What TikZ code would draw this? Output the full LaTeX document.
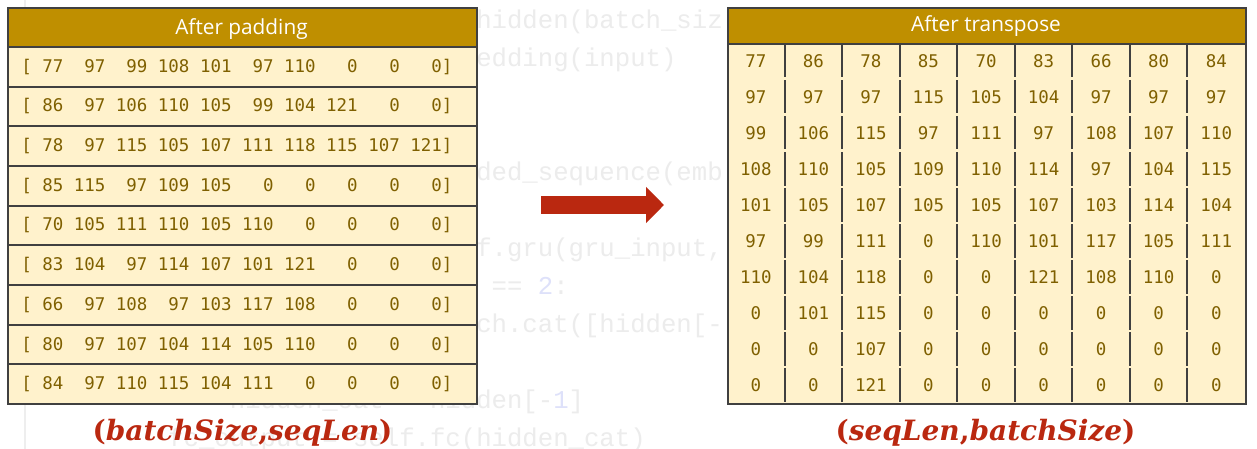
\documentclass[tikz,border=0pt]{standalone}
\usepackage{fontspec}
\setmainfont{Open Sans}
\newfontfamily\uifont{Open Sans}
\newfontfamily\numfont{DejaVu Sans Mono}
\newfontfamily\codefont{Liberation Mono}
\newfontfamily\labfont{DejaVu Serif}
\usetikzlibrary{arrows.meta}
\definecolor{hdr}{RGB}{191,143,0}
\definecolor{rowfill}{RGB}{255,242,204}
\definecolor{numcol}{RGB}{127,96,0}
\definecolor{bordercol}{RGB}{64,64,64}
\definecolor{redcol}{RGB}{186,40,16}
\definecolor{codegray}{RGB}{236,236,236}
\definecolor{codeblue}{RGB}{222,225,250}
\definecolor{guttercol}{RGB}{238,238,238}
\newcommand{\pxu}{0.75pt}
\tikzset{
  headbox/.style={draw=bordercol, line width=2*\pxu, fill=hdr, text=white,
    inner sep=0pt, anchor=north west},
  headtext/.style={text=white, inner sep=0pt, anchor=base,
    font=\uifont\fontsize{15.6}{18}\selectfont},
  rowbox/.style={draw=bordercol, line width=2*\pxu, fill=rowfill, inner sep=0pt,
    anchor=north west, minimum width=469*\pxu, minimum height=39.67*\pxu},
  rowtext/.style={text=numcol, inner sep=0pt, anchor=west,
    font=\numfont\fontsize{13.1}{15}\selectfont},
  celltext/.style={text=numcol, inner sep=0pt,
    font=\numfont\fontsize{13.1}{15}\selectfont},
  bodybox/.style={draw=bordercol, line width=2*\pxu, fill=rowfill, inner sep=0pt,
    anchor=north west},
  colline/.style={draw=bordercol, line width=2*\pxu},
  codetext/.style={text=codegray, inner sep=0pt, anchor=base west,
    font=\codefont\fontsize{19.25}{22}\selectfont},
  dimlabel/.style={text=redcol, inner sep=0pt,
    font=\labfont\bfseries\fontsize{21}{25}\selectfont},
  bigarrow/.style={draw=redcol, line width=18*\pxu,
    -{Triangle[width=35.4*\pxu,length=18*\pxu]}},
}
\begin{document}
\begin{tikzpicture}[x=0.75pt,y=-0.75pt]
\useasboundingbox (0,0) rectangle (1257,449);
\fill[white] (0,0) rectangle (1257,449);
% faint editor gutter
\coordinate (gutTop) at (25,0);
\coordinate (gutBot) at (25,449);
\draw[guttercol, line width=1.2*\pxu] (gutTop) -- (gutBot);

% faint background code (baselines 28.3 + 38k, columns 44.8 + 15.4c)
\node[codetext] (code1) at (476,28.3) {hidden(batch\_siz};
\node[codetext] (code2) at (476,66.3) {edding(input)};
\node[codetext] (code5) at (476,180.3) {ded\_sequence(emb};
\node[codetext] (code7) at (476,256.3) {f.gru(gru\_input,};
\node[codetext] (code8) at (491.4,294.3) {== \textcolor{codeblue}{2}:};
\node[codetext] (code9) at (476,332.3) {ch.cat([hidden[-};
\node[codetext] (code11) at (229.6,408.3) {hidden\_cat = hidden[-\textcolor{codeblue}{1}]};
\node[codetext] (code12) at (168,446.3) {fc\_output = self.fc(hidden\_cat)};

% left table
\node[headbox, minimum width=469*\pxu, minimum height=39*\pxu] (LH) at (7,7) {};
\node[headtext] (LHt) at (241.5,34.5) {After padding};
\foreach \k/\txt in {
  0/{[~77~~97~~99~108~101~~97~110~~~0~~~0~~~0]},
  1/{[~86~~97~106~110~105~~99~104~121~~~0~~~0]},
  2/{[~78~~97~115~105~107~111~118~115~107~121]},
  3/{[~85~115~~97~109~105~~~0~~~0~~~0~~~0~~~0]},
  4/{[~70~105~111~110~105~110~~~0~~~0~~~0~~~0]},
  5/{[~83~104~~97~114~107~101~121~~~0~~~0~~~0]},
  6/{[~66~~97~108~~97~103~117~108~~~0~~~0~~~0]},
  7/{[~80~~97~107~104~114~105~110~~~0~~~0~~~0]},
  8/{[~84~~97~110~115~104~111~~~0~~~0~~~0~~~0]}} {
  \node[rowbox] (L\k) at (7,{46+39.67*\k}) {};
  \node[rowtext] (Lt\k) at (21,{46+39.67*(\k+0.5)+1}) {\txt};
}

% right table
\node[headbox, minimum width=518*\pxu, minimum height=35.7*\pxu] (RH) at (727,7) {};
\node[headtext] (RHt) at (986,31.5) {After transpose};
\node[bodybox, minimum width=518*\pxu, minimum height=360.3*\pxu] (RB) at (727,42.7) {};
\foreach \c in {1,...,8} {
  \foreach \r in {0,...,9} {
    \coordinate (vt-\c-\r) at ({727+57.56*\c},{42.7+36.03*\r+1.3});
    \coordinate (vb-\c-\r) at ({727+57.56*\c},{42.7+36.03*(\r+1)-1.3});
    \draw[colline] (vt-\c-\r) -- (vb-\c-\r);
  }
}
\foreach \c/\vals in {
  0/{77,97,99,108,101,97,110,0,0,0},
  1/{86,97,106,110,105,99,104,101,0,0},
  2/{78,97,115,105,107,111,118,115,107,121},
  3/{85,115,97,109,105,0,0,0,0,0},
  4/{70,105,111,110,105,110,0,0,0,0},
  5/{83,104,97,114,107,101,121,0,0,0},
  6/{66,97,108,97,103,117,108,0,0,0},
  7/{80,97,107,104,114,105,110,0,0,0},
  8/{84,97,110,115,104,111,0,0,0,0}} {
  \foreach \v [count=\r from 0] in \vals {
    \node[celltext] (cell-\c-\r) at ({727+57.56*(\c+0.5)},{42.7+36.03*(\r+0.5)+0.5}) {\v};
  }
}

% arrow
\coordinate (arrS) at (541,205);
\coordinate (arrE) at (664,205);
\draw[bigarrow] (arrS) -- (arrE);

% dimension labels
\node[dimlabel] (labL) at (242.5,432.5) {(\textit{batchSize},\textit{seqLen})};
\node[dimlabel] (labR) at (985.5,432.5) {(\textit{seqLen},\textit{batchSize})};
\end{tikzpicture}
\end{document}
